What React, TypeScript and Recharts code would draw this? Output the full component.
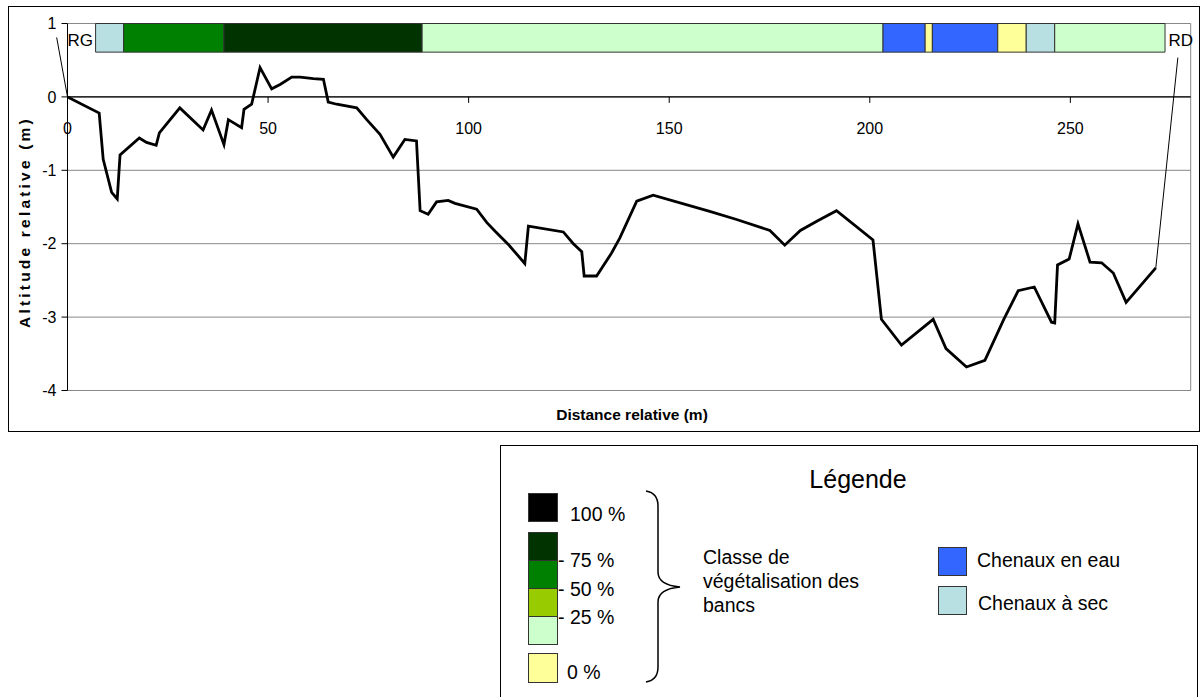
import React from 'react';
import {
  LineChart, Line, XAxis, YAxis, CartesianGrid,
  ReferenceArea, ReferenceLine, ReferenceDot,
} from 'recharts';

// profil en travers : distance (m) / altitude relative (m)
const distances = [
  0, 7.9, 8.9, 11.0, 12.4, 13.1, 17.9, 19.7, 22.1, 22.9,
  28.0, 33.8, 35.9, 39.0, 40.1, 43.4, 44.0, 45.9, 48.0, 50.9,
  53.0, 55.9, 58.0, 61.3, 63.8, 65.0, 67.1, 72.1, 74.6, 77.9,
  81.2, 84.1, 87.0, 87.9, 89.9, 92.0, 94.9, 96.6, 102.0, 104.5,
  106.6, 109.9, 114.0, 114.9, 123.6, 126.1, 128.2, 128.8, 131.9, 135.6,
  137.7, 141.9, 146.0, 160.1, 166.8, 175.1, 178.8, 182.7, 186.9, 191.7,
  200.8, 202.9, 207.9, 215.8, 219.0, 224.1, 228.7, 233.4, 237.0, 241.0,
  245.3, 246.1, 246.8, 249.7, 251.9, 254.9, 257.8, 260.7, 263.9, 271.3,
];
const altitudes = [
  0, -0.22, -0.85, -1.30, -1.39, -0.79, -0.56, -0.62, -0.66, -0.49,
  -0.15, -0.45, -0.18, -0.65, -0.31, -0.42, -0.17, -0.10, 0.40, 0.11,
  0.17, 0.27, 0.27, 0.25, 0.24, -0.07, -0.10, -0.15, -0.31, -0.51,
  -0.82, -0.58, -0.60, -1.55, -1.60, -1.43, -1.41, -1.45, -1.53, -1.71,
  -1.83, -2.01, -2.27, -1.76, -1.84, -2.00, -2.11, -2.44, -2.44, -2.13,
  -1.92, -1.42, -1.34, -1.56, -1.67, -1.82, -2.02, -1.82, -1.69, -1.55,
  -1.95, -3.03, -3.38, -3.03, -3.43, -3.68, -3.59, -3.03, -2.64, -2.59,
  -3.07, -3.08, -2.29, -2.21, -1.73, -2.25, -2.26, -2.40, -2.80, -2.33,
];

// bandeau de végétalisation
const bandStart = [7, 14, 39, 88.4, 203.3, 213.8, 215.6, 231.9, 239, 246.1];
const bandEnd   = [14, 39, 88.4, 203.3, 213.8, 215.6, 231.9, 239, 246.1, 273.6];
const bandClass = ['sec', '50', '75', '25', 'eau', '0', 'eau', '0', 'sec', '25'];
const BAND_LOW = 0.61;
const BAND_HIGH = 1;

const xTicks = [0, 50, 100, 150, 200, 250];
const yTicks = [-4, -3, -2, -1, 0, 1];

const COLORS: Record<string, string> = {
  '100': '#000000',
  '75': '#003300',
  '50': '#008000',
  '25v': '#99CC00',
  '25': '#CCFFCC',
  '0': '#FFFF99',
  eau: '#3366FF',
  sec: '#B8DFE1',
};

const FONT = '"Liberation Sans", Arial, sans-serif';

const W = 1203;
const H = 440;
const TOP = 23.5;
const BOTTOM = 390.5;
const Y_MIN = -4;
const Y_MAX = 1;
const ZERO_Y = TOP + (BOTTOM - TOP) * (Y_MAX - 0) / (Y_MAX - Y_MIN);

const data = distances.map((d, i) => ({ d, alt: altitudes[i] }));

// eslint-disable-next-line @typescript-eslint/no-explicit-any
function XTick({ x, payload }: any) {
  return (
    <g>
      <line x1={x} x2={x} y1={ZERO_Y} y2={ZERO_Y + 6} stroke="#000" />
      <text x={x} y={ZERO_Y + 31} dy="0.35em" textAnchor="middle"
        fontSize={16} fontFamily={FONT} fill="#000">
        {payload.value}
      </text>
    </g>
  );
}

const sw = (left: number, top: number, w: number, h: number, color: string) => (
  <div style={{
    position: 'absolute', left, top, width: w, height: h,
    background: color, border: '1px solid #333', boxSizing: 'border-box',
  }} />
);

const txt = (left: number, top: number, s: string, size = 19.5) => (
  <div style={{
    position: 'absolute', left, top, fontSize: size, lineHeight: 1,
    fontFamily: FONT, whiteSpace: 'nowrap', color: '#000',
  }}>{s}</div>
);

export default function App() {
  return (
    <div style={{ position: 'absolute', left: 0, top: 0, width: W, height: 697, background: '#fff', overflow: 'hidden', fontFamily: FONT }}>
      {/* cadre du graphique */}
      <div style={{ position: 'absolute', left: 8, top: 6, width: 1192, height: 426, border: '1.5px solid #000', boxSizing: 'border-box' }} />

      <div style={{ position: 'absolute', left: 0, top: 0 }}>
        <LineChart width={W} height={H} data={data}
          margin={{ top: TOP, right: 12.3, bottom: 19.5, left: 7.5 }}>
          <CartesianGrid vertical={false} stroke="#888" horizontalValues={yTicks} />
          <XAxis dataKey="d" type="number" domain={[0, 280]} ticks={xTicks}
            allowDataOverflow axisLine={false} tickLine={false} height={30}
            tick={<XTick />} interval={0} />
          <YAxis type="number" domain={[Y_MIN, Y_MAX]} ticks={yTicks} width={60}
            allowDataOverflow axisLine={{ stroke: '#000' }} tickLine={{ stroke: '#000' }}
            tickSize={6} tickMargin={5}
            tick={{ fill: '#000', fontSize: 16, fontFamily: FONT }} interval={0} />

          <ReferenceLine x={280} stroke="#888" />
          <ReferenceLine y={0} stroke="#000" strokeWidth={1.2} />

          {bandStart.map((s, i) => (
            <ReferenceArea key={i} x1={s} x2={bandEnd[i]} y1={BAND_LOW} y2={BAND_HIGH}
              fill={COLORS[bandClass[i]]} fillOpacity={1} stroke="#333" strokeWidth={1} />
          ))}

          <ReferenceLine segment={[{ x: -2.7, y: 0.81 }, { x: 0, y: 0 }]}
            stroke="#000" strokeWidth={1} ifOverflow="visible" />
          <ReferenceLine segment={[{ x: 276.8, y: 0.535 }, { x: 271.3, y: -2.33 }]}
            stroke="#000" strokeWidth={1} ifOverflow="visible" />
          <ReferenceDot x={3.2} y={0.78} r={0} fill="none" stroke="none" ifOverflow="visible"
            label={{ value: 'RG', position: 'center', fill: '#000', fontSize: 17, fontFamily: FONT }} />
          <ReferenceDot x={277.5} y={0.77} r={0} fill="none" stroke="none" ifOverflow="visible"
            label={{ value: 'RD', position: 'center', fill: '#000', fontSize: 17, fontFamily: FONT }} />

          <Line type="linear" dataKey="alt" stroke="#000" strokeWidth={2.8}
            dot={false} isAnimationActive={false} />
        </LineChart>
      </div>

      {/* titres des axes */}
      <div style={{
        position: 'absolute', left: 25, top: 222, transform: 'translate(-50%, -50%) rotate(-90deg)',
        fontSize: 15.5, fontWeight: 'bold', letterSpacing: 3.2, whiteSpace: 'nowrap',
      }}>Altitude relative (m)</div>
      <div style={{
        position: 'absolute', left: 632, top: 415, transform: 'translate(-50%, -50%)',
        fontSize: 15.5, fontWeight: 'bold', whiteSpace: 'nowrap',
      }}>Distance relative (m)</div>

      {/* légende */}
      <div style={{ position: 'absolute', left: 500, top: 445, width: 698, height: 260, border: '1.5px solid #000', boxSizing: 'border-box' }} />
      <div style={{ position: 'absolute', left: 858, top: 479, transform: 'translate(-50%, -50%)', fontSize: 25, whiteSpace: 'nowrap' }}>Légende</div>

      {sw(528, 493, 30, 29, COLORS['100'])}
      {txt(570, 505, '100 %')}
      {sw(528, 532, 30, 29, COLORS['75'])}
      {sw(528, 560, 30, 29, COLORS['50'])}
      {sw(528, 588, 30, 29, COLORS['25v'])}
      {sw(528, 616, 30, 29, COLORS['25'])}
      {txt(558, 551, '- 75 %')}
      {txt(558, 580, '- 50 %')}
      {txt(558, 608, '- 25 %')}
      {sw(528, 653, 30, 30, COLORS['0'])}
      {txt(567, 663, '0 %')}

      <svg style={{ position: 'absolute', left: 0, top: 0 }} width={W} height={697} pointerEvents="none">
        <path d="M646 491 Q658 493 658 506 L658 572 Q658 585 680 587 Q658 589 658 602 L658 667 Q658 680 646 682"
          fill="none" stroke="#000" strokeWidth={1.5} />
      </svg>

      {txt(703, 548, 'Classe de')}
      {txt(703, 572, 'végétalisation des')}
      {txt(703, 596, 'bancs')}

      {sw(938, 547, 29, 29, COLORS.eau)}
      {txt(977, 551, 'Chenaux en eau')}
      {sw(938, 586, 29, 29, COLORS.sec)}
      {txt(978, 594, 'Chenaux à sec')}
    </div>
  );
}
